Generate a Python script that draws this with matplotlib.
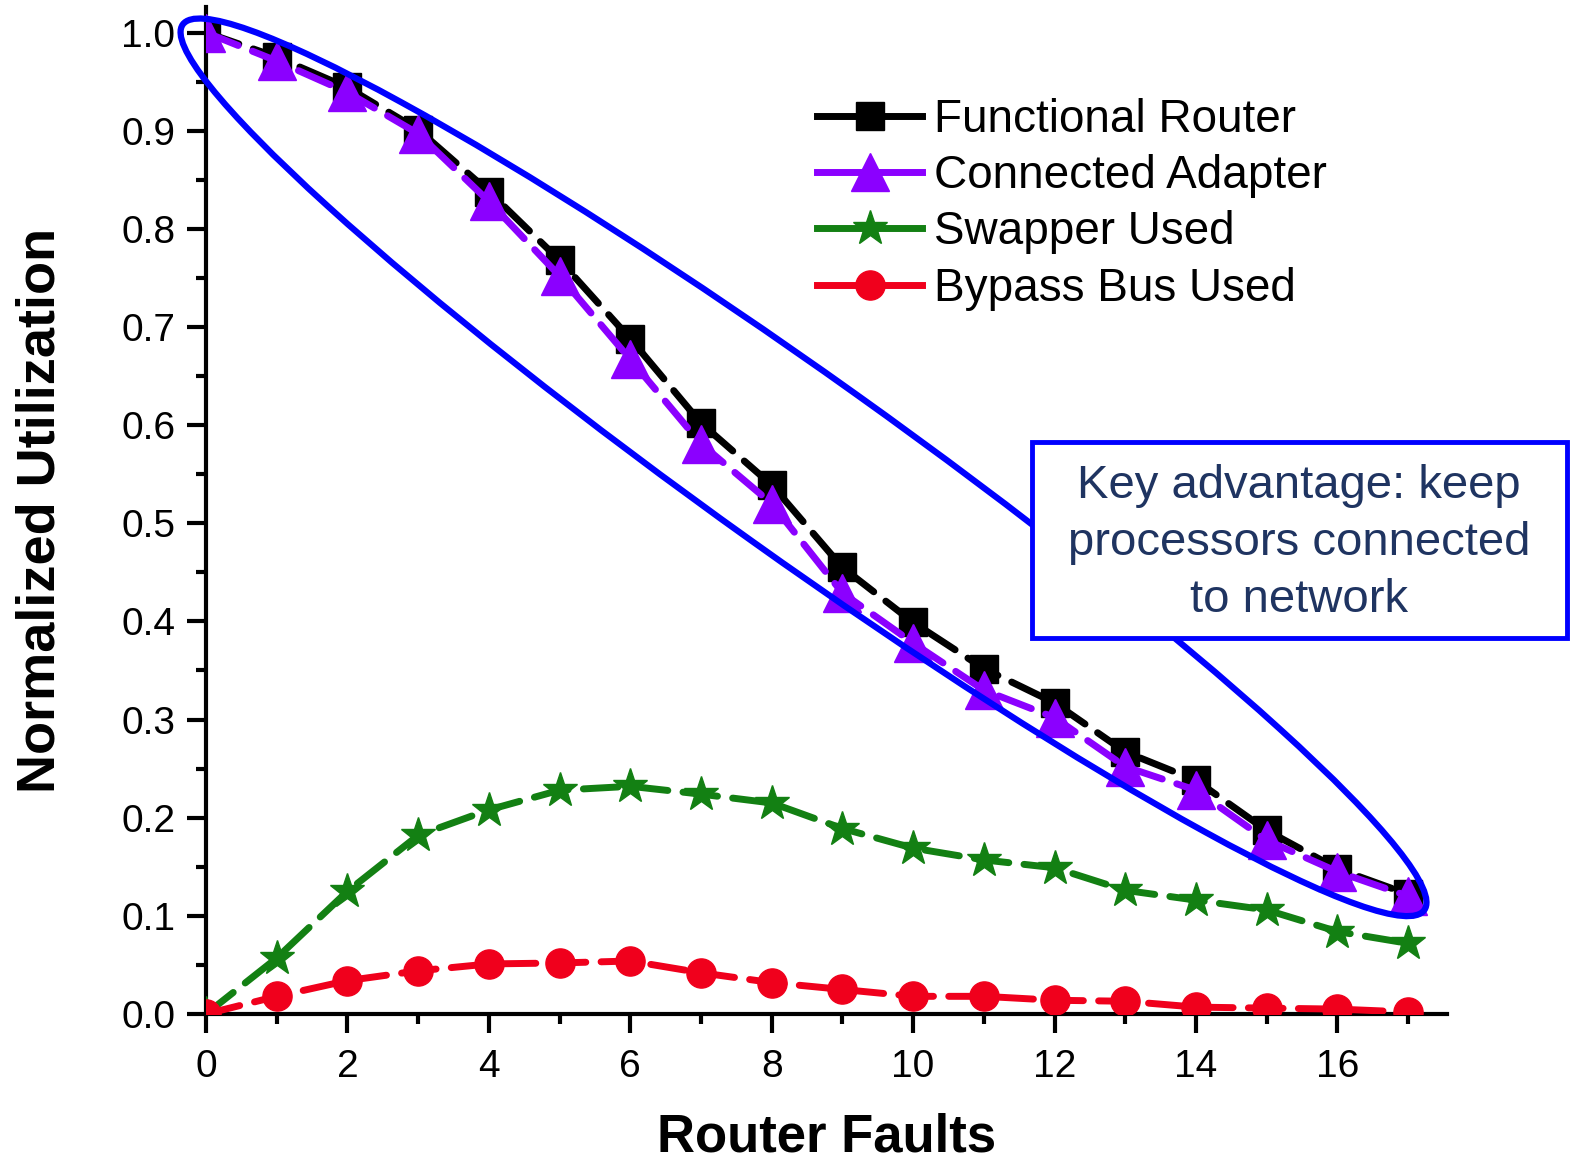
import matplotlib.pyplot as plt
import matplotlib.transforms as mtransforms
from matplotlib.patches import Ellipse, Rectangle
from matplotlib.ticker import MultipleLocator

plt.rcParams['font.family'] = ['Liberation Sans', 'DejaVu Sans']

# data
faults = list(range(18))
functional_router = [1.0, 0.975, 0.944, 0.901, 0.838, 0.768, 0.688, 0.602, 0.539,
                     0.455, 0.399, 0.352, 0.317, 0.267, 0.238, 0.187, 0.148, 0.122]
connected_adapter = [1.0, 0.971, 0.939, 0.897, 0.828, 0.752, 0.667, 0.581, 0.520,
                     0.429, 0.378, 0.330, 0.302, 0.252, 0.228, 0.177, 0.145, 0.120]
swapper_used = [0.0, 0.057, 0.125, 0.182, 0.208, 0.228, 0.232, 0.224, 0.215,
                0.189, 0.169, 0.157, 0.149, 0.126, 0.116, 0.106, 0.084, 0.072]
bypass_bus_used = [0.0, 0.018, 0.034, 0.044, 0.051, 0.052, 0.054, 0.042, 0.032,
                   0.025, 0.018, 0.018, 0.014, 0.013, 0.007, 0.006, 0.005, 0.002]

series = [functional_router, connected_adapter, swapper_used, bypass_bus_used]
labels = ['Functional Router', 'Connected Adapter', 'Swapper Used', 'Bypass Bus Used']
colors = ['black', '#8B00FF', '#138013', '#F0001C']
markers = ['s', '^', '*', 'o']
msizes = [20, 27, 26, 21]

fig = plt.figure(figsize=(15.75, 11.63), dpi=100)
ax = fig.add_axes([206/1575, (1163-1014)/1163, (1447-206)/1575, (1014-7)/1163])

for vals, lab, c, m, s in zip(series, labels, colors, markers, msizes):
    ax.plot(faults, vals, color=c, marker=m, markersize=s, lw=5,
            ls=(0, (5, 2.2)), dash_capstyle='round', label=lab, zorder=3)

ax.set_xlim(0, 17.55)
ax.set_ylim(0, 1.026)
ax.xaxis.set_major_locator(MultipleLocator(2))
ax.xaxis.set_minor_locator(MultipleLocator(1))
ax.yaxis.set_major_locator(MultipleLocator(0.1))
ax.yaxis.set_minor_locator(MultipleLocator(0.05))
ax.yaxis.set_major_formatter(plt.FormatStrFormatter('%.1f'))

ax.spines['top'].set_visible(False)
ax.spines['right'].set_visible(False)
for sp in ['left', 'bottom']:
    ax.spines[sp].set_linewidth(3)
ax.tick_params(which='major', direction='out', length=14, width=3, labelsize=28, pad=8)
ax.tick_params(axis='x', which='major', pad=11)
ax.tick_params(which='minor', direction='out', length=7, width=3)

ax.set_xlabel('Router Faults', fontsize=38, fontweight='bold', labelpad=20)
ax.set_ylabel('Normalized Utilization', fontsize=39, fontweight='bold', labelpad=40)

leg = ax.legend(loc='upper left', bbox_to_anchor=(0.4923, 0.910), frameon=False,
                borderpad=0, borderaxespad=0, handlelength=2.3, handletextpad=0.25,
                labelspacing=0.27, fontsize=33)
for h in leg.get_lines():
    h.set_linestyle('-')

# blue ellipse around the top two curves
trans = fig.dpi_scale_trans + mtransforms.ScaledTranslation(8.45, 0.557, ax.transData)
ell = Ellipse((0, 0), 15.25, 1.8, angle=-35.5, transform=trans, fill=False,
              edgecolor='#0000FF', lw=4.5, clip_on=False, zorder=4)
ax.add_patch(ell)

# callout box
box = Rectangle((1032/1575, (1163-638)/1163), 535/1575, 196/1163,
                transform=fig.transFigure, facecolor='white', edgecolor='#0000FF',
                lw=3.5, zorder=5)
fig.patches.append(box)
fig.text((1032+267)/1575, (1163-543)/1163,
         'Key advantage: keep\nprocessors connected\nto network',
         ha='center', va='center', fontsize=34, color='#1F3461',
         linespacing=1.38, zorder=6)

fig.savefig('out.png', dpi=100)
